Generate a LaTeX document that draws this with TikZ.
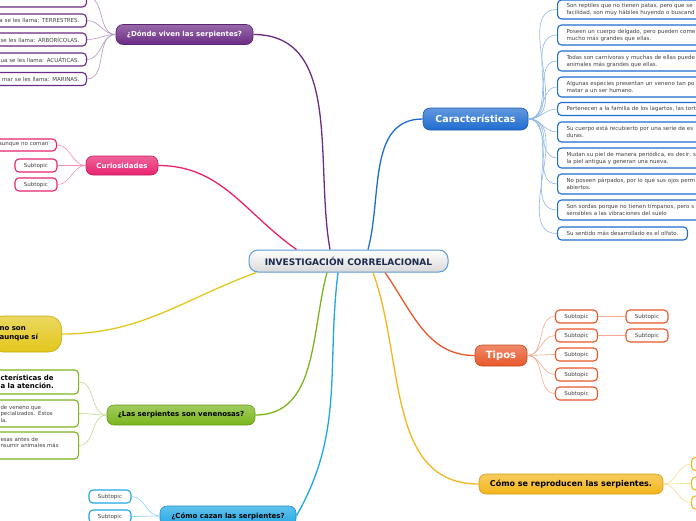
\documentclass[tikz,border=0pt]{standalone}
\usepackage{fontspec}
\setmainfont{DejaVu Sans}
\usetikzlibrary{positioning}

\definecolor{cenline}{HTML}{5B9BD5}
\definecolor{centext}{HTML}{1B2A4E}
\definecolor{dvpurple}{HTML}{6B2A84}
\definecolor{cupink}{HTML}{E8226F}
\definecolor{noyellow}{HTML}{E3C71B}
\definecolor{vegreen}{HTML}{79B51B}
\definecolor{cacyan}{HTML}{1EA7E4}
\definecolor{chblue}{HTML}{1E6CD0}
\definecolor{tiorange}{HTML}{E8572A}
\definecolor{regold}{HTML}{F3B61B}

\begin{document}
\begin{tikzpicture}[
  x=1pt, y=-1pt,
  font=\fontsize{5.5}{7}\selectfont,
  central/.style={draw=cenline, line width=1pt, rounded corners=9pt, minimum width=199pt, minimum height=22pt, top color=white, bottom color=black!15, text=centext, font=\fontsize{9}{10}\selectfont\bfseries},
  topic/.style={draw=#1!85!black, line width=0.6pt, rounded corners=7pt, minimum height=20pt, inner xsep=3pt, top color=#1!70!white, bottom color=#1, font=\fontsize{7}{8.5}\selectfont\bfseries},
  leaf/.style={draw=#1, line width=1.1pt, rounded corners=4pt, fill=white, text=black!75, inner ysep=2pt},
  subtopic/.style={leaf=#1, minimum width=42pt, minimum height=13pt, inner xsep=0pt, font=\fontsize{5.5}{6.5}\selectfont},
  branch/.style={line width=1.3pt, draw=#1},
  twig/.style={line width=0.6pt, draw=#1!50!white},
]
\useasboundingbox (0,0) rectangle (696,520);

% Centre
\node[central] (inv) at (348.5,261) {INVESTIGACIÓN CORRELACIONAL};

% Main topics
\node[topic=dvpurple, text=white, minimum width=137pt] (donde) at (184.5,34.5) {¿Dónde viven las serpientes?};
\node[topic=cupink, text=white, minimum width=72pt, minimum height=19pt] (curios) at (122,165.5) {Curiosidades};
\node[topic=noyellow, anchor=east, text width=52pt, inner xsep=10pt, align=left, minimum height=36pt, rounded corners=13pt] (noson) at (62,334) {no son\\aunque sí};
\node[topic=vegreen, minimum width=148pt] (venen) at (181,415) {¿Las serpientes son venenosas?};
\node[topic=cacyan, minimum width=136pt] (cazan) at (228,516) {¿Cómo cazan las serpientes?};
\node[topic=chblue, text=white, minimum width=105pt, minimum height=22pt, font=\fontsize{9.5}{11}\selectfont\bfseries] (caract) at (475.5,119) {Características};
\node[topic=tiorange, text=white, minimum width=52pt, minimum height=21pt, font=\fontsize{10}{11}\selectfont\bfseries] (tipos) at (501,355.5) {Tipos};
\node[topic=regold, minimum width=184pt, font=\fontsize{8}{9.5}\selectfont\bfseries] (repro) at (571,484) {Cómo se reproducen las serpientes.};

% Branches from the centre
\draw[branch=dvpurple] ([xshift=-18.5pt]inv.north) to[out=100, in=0] (donde.east);
\draw[branch=cupink] ([xshift=-52pt]inv.north) to[out=145, in=0] (curios.east);
\draw[branch=noyellow] ([xshift=8pt]inv.south west) to[out=200, in=0] (noson.east);
\draw[branch=vegreen] ([xshift=-21.5pt]inv.south) to[out=-105, in=0] (venen.east);
\draw[branch=cacyan] ([xshift=-10.5pt]inv.south) to[out=-97, in=60] (cazan.east);
\draw[branch=chblue] ([xshift=19.5pt]inv.north) to[out=75, in=180] (caract.west);
\draw[branch=tiorange] ([xshift=36.5pt]inv.south) to[out=-55, in=180] (tipos.west);
\draw[branch=regold] ([xshift=24.5pt]inv.south) to[out=-70, in=180] (repro.west);

% Where they live
\node[leaf=dvpurple, anchor=east, minimum width=120pt, minimum height=20pt] (p0) at (87,-3) {};
\node[leaf=dvpurple, anchor=east, text width=110pt, align=right, inner xsep=7pt, minimum height=13pt] (p1) at (87,20.5) {a se les llama: TERRESTRES.};
\node[leaf=dvpurple, anchor=east, text width=110pt, align=right, inner xsep=7pt, minimum height=13pt] (p2) at (87,39.5) {se les llama: ARBORÍCOLAS.};
\node[leaf=dvpurple, anchor=east, text width=110pt, align=right, inner xsep=7pt, minimum height=13pt] (p3) at (87,59.5) {ua se les llama: ACUÁTICAS.};
\node[leaf=dvpurple, anchor=east, text width=110pt, align=right, inner xsep=7pt, minimum height=13pt] (p4) at (87,79) {mar se les llama: MARINAS.};
\foreach \n in {p0,p1,p2,p3,p4}
  \draw[twig=dvpurple] (donde.west) to[out=180, in=0] (\n.east);

% Curiosities
\node[leaf=cupink, anchor=east, text width=80pt, align=right, inner xsep=8pt, minimum height=12pt] (k1) at (57,145) {aunque no coman};
\node[subtopic=cupink] (k2) at (36,165.5) {Subtopic};
\node[subtopic=cupink] (k3) at (36,184.5) {Subtopic};
\foreach \n in {k1,k2,k3}
  \draw[twig=cupink] (curios.west) to[out=180, in=0] (\n.east);

% Venomous
\node[leaf=vegreen, anchor=west, text width=68pt, inner xsep=10pt, align=left, minimum height=24pt, text=black, font=\fontsize{7}{8}\selectfont\bfseries] (g1) at (-10,382) {cterísticas de\\a la atención.};
\node[leaf=vegreen, anchor=west, text width=68pt, inner xsep=10pt, align=left, minimum height=27pt, font=\fontsize{5.4}{6.5}\selectfont] (g2) at (-10,413.5) {de veneno que\\pecializados. Estos\\la.};
\node[leaf=vegreen, anchor=west, text width=68pt, inner xsep=10pt, align=left, minimum height=27pt, font=\fontsize{5.4}{6.5}\selectfont] (g3) at (-10,445.5) {esas antes de\\nsumir animales más\\\mbox{}};
\foreach \n in {g1,g2,g3}
  \draw[twig=vegreen] (venen.west) to[out=180, in=0] (\n.east);

% Hunting
\node[subtopic=cacyan] (h1) at (110,496.5) {Subtopic};
\node[subtopic=cacyan] (h2) at (110,516.5) {Subtopic};
\foreach \n in {h1,h2}
  \draw[twig=cacyan] (cazan.west) to[out=180, in=0] (\n.east);

% Characteristics
\node[leaf=chblue, anchor=west, text width=220pt, align=left, inner xsep=9pt, minimum height=19pt] (c1) at (557,9.5) {Son reptiles que no tienen patas, pero que se\\facilidad, son muy hábiles huyendo o buscand};
\node[leaf=chblue, anchor=west, text width=220pt, align=left, inner xsep=9pt, minimum height=20pt] (c2) at (557,35) {Poseen un cuerpo delgado, pero pueden come\\mucho más grandes que ellas.};
\node[leaf=chblue, anchor=west, text width=220pt, align=left, inner xsep=9pt, minimum height=20pt] (c3) at (557,61) {Todas son carnívoras y muchas de ellas puede\\animales más grandes que ellas.};
\node[leaf=chblue, anchor=west, text width=220pt, align=left, inner xsep=9pt, minimum height=20pt] (c4) at (557,87) {Algunas especies presentan un veneno tan po\\matar a un ser humano.};
\node[leaf=chblue, anchor=west, text width=220pt, align=left, inner xsep=9pt, minimum height=13pt] (c5) at (557,109) {Pertenecen a la familia de los lagartos, las tortu};
\node[leaf=chblue, anchor=west, text width=220pt, align=left, inner xsep=9pt, minimum height=20pt] (c6) at (557,132) {Su cuerpo está recubierto por una serie de es\\duras.};
\node[leaf=chblue, anchor=west, text width=220pt, align=left, inner xsep=9pt, minimum height=20pt] (c7) at (557,158) {Mudan su piel de manera periódica, es decir, s\\la piel antigua y generan una nueva.};
\node[leaf=chblue, anchor=west, text width=220pt, align=left, inner xsep=9pt, minimum height=20pt] (c8) at (557,184) {No poseen párpados, por lo que sus ojos perm\\abiertos.};
\node[leaf=chblue, anchor=west, text width=220pt, align=left, inner xsep=9pt, minimum height=20pt] (c9) at (557,210) {Son sordas porque no tienen tímpanos, pero s\\sensibles a las vibraciones del suelo};
\node[leaf=chblue, anchor=west, inner xsep=9pt, minimum height=13pt] (c10) at (557,233.5) {Su sentido más desarrollado es el olfato.};
\foreach \n in {c1,c2,c3,c4,c5,c6,c7,c8,c9,c10}
  \draw[twig=chblue] (caract.east) to[out=0, in=180] (\n.west);

% Types
\foreach \n/\y in {t1/316.5, t2/335.5, t3/354.5, t4/374.5, t5/393.5} {
  \node[subtopic=tiorange] (\n) at (576.5,\y) {Subtopic};
  \draw[twig=tiorange] (tipos.east) to[out=0, in=180] (\n.west);
}
\node[subtopic=tiorange] (tt1) at (647,316.5) {Subtopic};
\node[subtopic=tiorange] (tt2) at (647,335.5) {Subtopic};
\draw[twig=tiorange] (t1.east) -- (tt1.west);
\draw[twig=tiorange, line width=1.2pt] (t2.east) -- (tt2.west);

% Reproduction
\foreach \n/\y in {r1/464, r2/483.5, r3/502.5} {
  \node[subtopic=regold, anchor=west] (\n) at (691,\y) {};
  \draw[twig=regold] (repro.east) to[out=0, in=180] (\n.west);
}

\end{tikzpicture}
\end{document}
